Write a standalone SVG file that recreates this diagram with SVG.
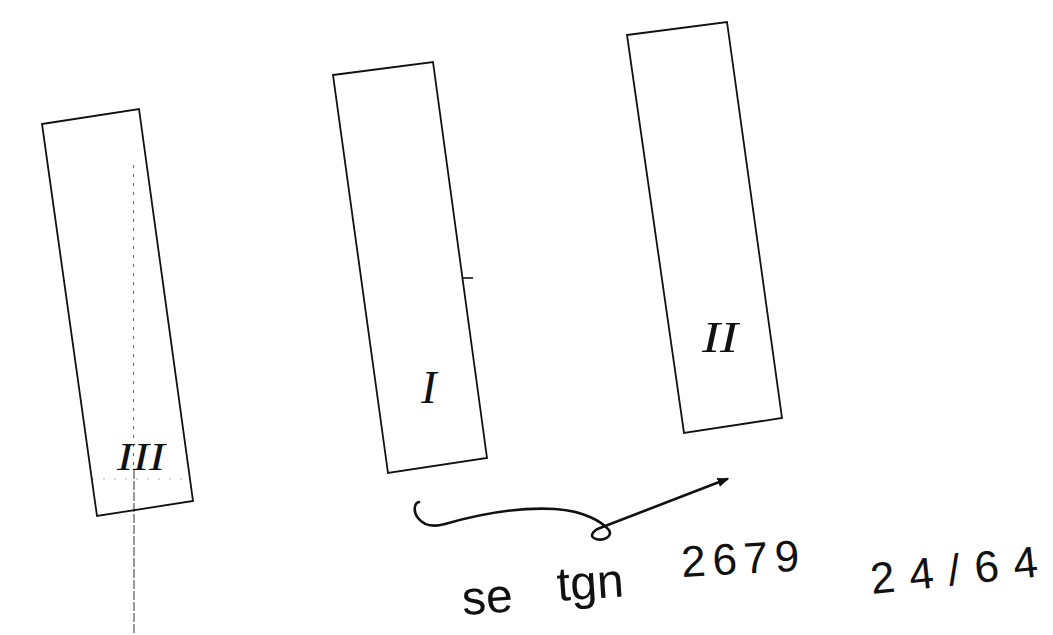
<svg xmlns="http://www.w3.org/2000/svg" width="1053" height="635" viewBox="0 0 1053 635">
<defs>
<style>
.box{fill:none;stroke:#111;stroke-width:1.8;stroke-linejoin:miter}
.num{font-family:"Liberation Serif",serif;font-style:italic;fill:#111;text-anchor:middle}
.hand{font-family:"Liberation Sans",sans-serif;fill:#111}
.conn{fill:none;stroke:#111;stroke-width:2.6;stroke-linecap:round;stroke-linejoin:round}
</style>
<marker id="ah" viewBox="0 0 10 10" refX="8" refY="5" markerWidth="4.5" markerHeight="4.5" orient="auto" markerUnits="strokeWidth">
<path d="M0,1 L10,5 L0,9 Z" fill="#111"/>
</marker>
</defs>
<rect width="1053" height="635" fill="#fff"/>
<g id="axis-III">
<line x1="133.5" y1="165" x2="133.5" y2="470" stroke="#666" stroke-width="1" stroke-dasharray="3,6"/>
<line x1="134" y1="470" x2="134" y2="635" stroke="#333" stroke-width="1" stroke-dasharray="9,2"/>
<line x1="92" y1="479" x2="190" y2="479" stroke="#999" stroke-width="0.8" stroke-dasharray="2,9"/>
</g>
<g id="node-III">
<polygon class="box" points="42,124 139,109 193,501 97,516"/>
<text class="num" x="141" y="470" font-size="40" textLength="48" lengthAdjust="spacingAndGlyphs">III</text>
</g>
<g id="node-I">
<polygon class="box" points="333,75 433,62 487,458 388,473"/>
<line x1="462" y1="278" x2="473" y2="278" stroke="#111" stroke-width="1.6"/>
<text class="num" x="429" y="403" font-size="46">I</text>
</g>
<g id="node-II">
<polygon class="box" points="627,35 727,22 782,418 684,433"/>
<text class="num" x="720" y="352" font-size="44" textLength="36" lengthAdjust="spacingAndGlyphs">II</text>
</g>
<g id="connectors">
<path class="conn" d="M419,502 C414,503 413,512 418,518 C424,526 434,527 445,524 C480,514 520,507 555,509 C585,511 602,522 609,530 C613,537 603,541 596,539 C589,537 592,531 600,528 L727,479" marker-end="url(#ah)"/>
</g>
<g id="notes">
<text class="hand" x="463" y="615" font-size="48" transform="rotate(-4 463 615)">se</text>
<text class="hand" x="558" y="601" font-size="48" transform="rotate(-4 558 601)">tgn</text>
<text class="hand" x="682" y="577" font-size="44" textLength="118" lengthAdjust="spacing" transform="rotate(-3 682 577)">2679</text>
<text class="hand" x="872" y="594" font-size="44" textLength="168" lengthAdjust="spacing" transform="rotate(-6 872 594)">24/64</text>
</g>
</svg>
